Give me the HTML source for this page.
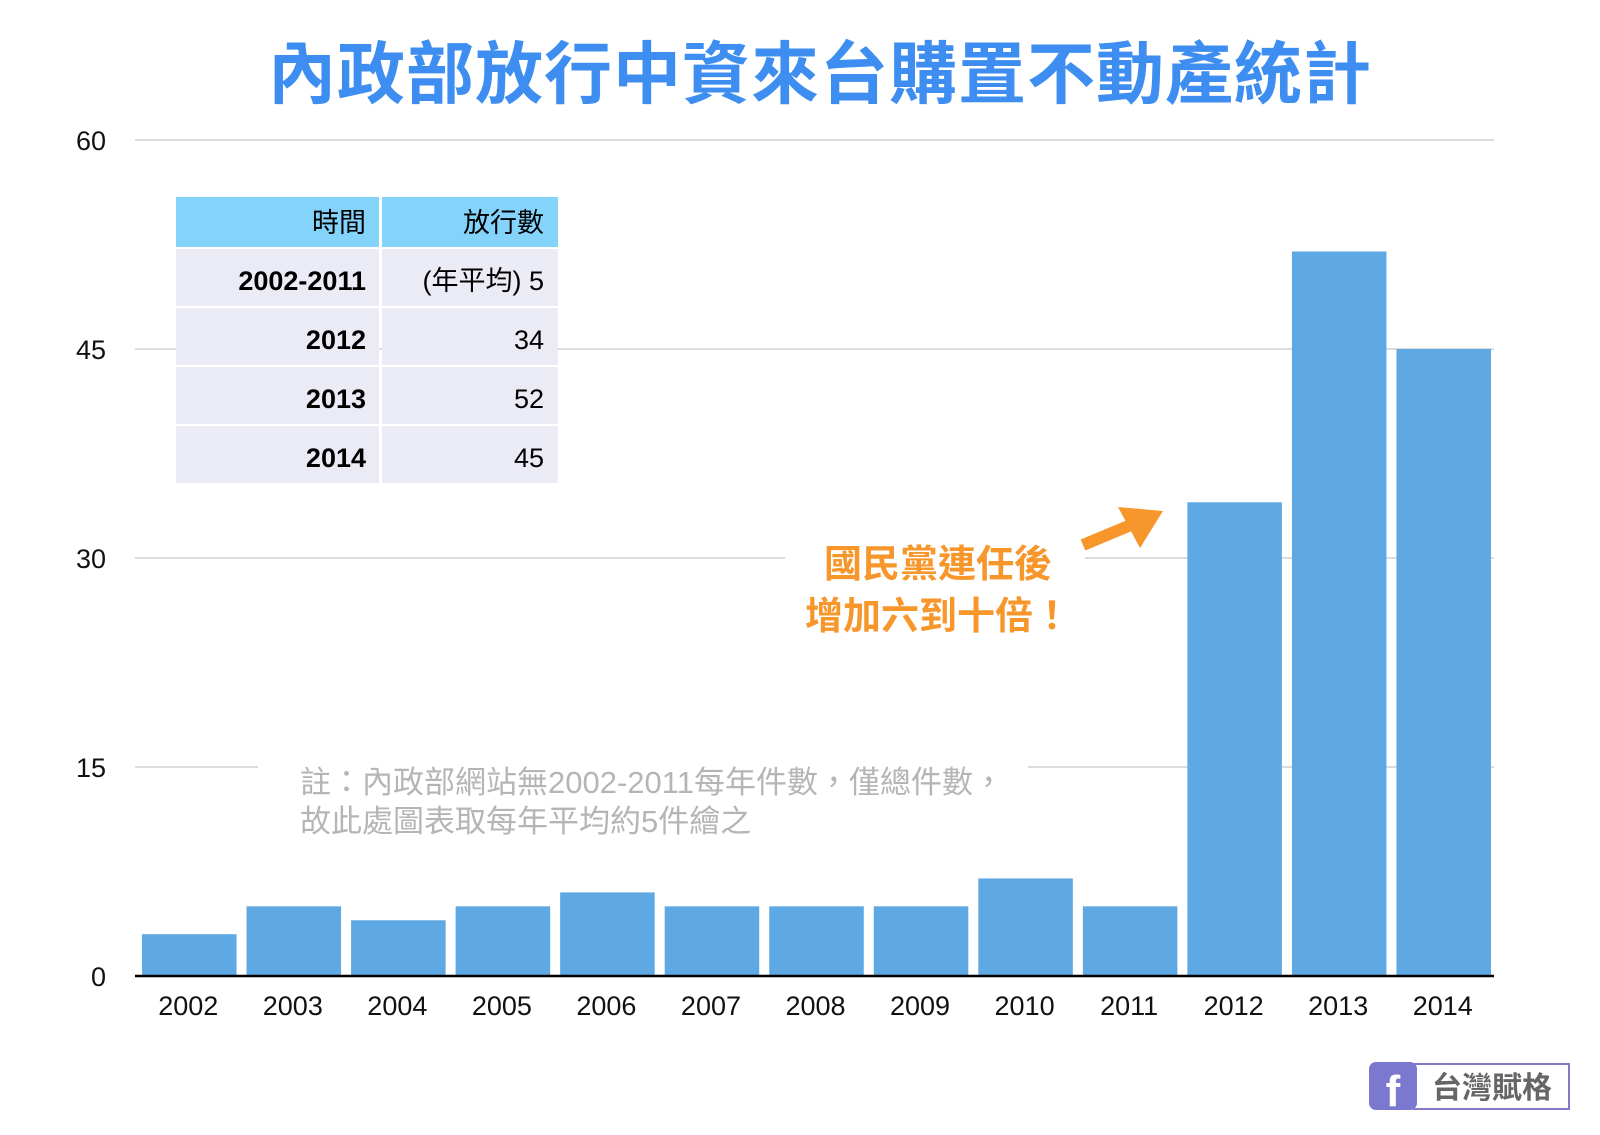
<!DOCTYPE html>
<html><head><meta charset="utf-8"><style>
body{margin:0;width:1600px;height:1130px;background:#fff;overflow:hidden;font-family:"Liberation Sans","Noto Sans CJK TC",sans-serif}
svg text{font-family:"Liberation Sans","Noto Sans CJK TC",sans-serif}
</style></head><body>
<svg id="chart" width="1600" height="1130">
<text x="820" y="98" text-anchor="middle" font-size="68" letter-spacing="1" font-weight="bold" fill="#3d8ef0">內政部放行中資來台購置不動產統計</text>
<g id="grid"></g><g id="bars"></g><g id="xlabels"></g><g id="ylabels"></g>
<line x1="135" y1="976" x2="1494" y2="976" stroke="#000" stroke-width="2.5"/>
<rect x="785" y="540" width="300" height="100" fill="#fff"/>
<rect x="258" y="750" width="770" height="100" fill="#fff"/>
<text x="938" y="577" text-anchor="middle" font-size="38" font-weight="bold" fill="#f7972b">國民黨連任後</text>
<text x="938" y="629" text-anchor="middle" font-size="38" font-weight="bold" fill="#f7972b">增加六到十倍！</text>
<g><line x1="1083" y1="545" x2="1138" y2="522" stroke="#f7972b" stroke-width="12"/><polygon points="1163,511 1118,507 1140,548" fill="#f7972b"/></g>
<text x="300" y="793" font-size="31" fill="#b5b5b5">註：內政部網站無2002-2011每年件數，僅總件數，</text>
<text x="300" y="832" font-size="31" fill="#b5b5b5">故此處圖表取每年平均約5件繪之</text>
<g font-size="27">
<rect x="176" y="197" width="203" height="50" fill="#84d3fb"/><rect x="382" y="197" width="176" height="50" fill="#84d3fb"/>
<text x="366" y="232" text-anchor="end">時間</text><text x="544" y="232" text-anchor="end">放行數</text>
<rect x="176" y="249" width="203" height="57" fill="#ebebf6"/><rect x="382" y="249" width="176" height="57" fill="#ebebf6"/>
<text x="366" y="290" text-anchor="end" font-weight="bold">2002-2011</text><text x="544" y="290" text-anchor="end">(年平均) 5</text>
<rect x="176" y="308" width="203" height="57" fill="#ebebf6"/><rect x="382" y="308" width="176" height="57" fill="#ebebf6"/>
<text x="366" y="349" text-anchor="end" font-weight="bold">2012</text><text x="544" y="349" text-anchor="end">34</text>
<rect x="176" y="367" width="203" height="57" fill="#ebebf6"/><rect x="382" y="367" width="176" height="57" fill="#ebebf6"/>
<text x="366" y="408" text-anchor="end" font-weight="bold">2013</text><text x="544" y="408" text-anchor="end">52</text>
<rect x="176" y="426" width="203" height="57" fill="#ebebf6"/><rect x="382" y="426" width="176" height="57" fill="#ebebf6"/>
<text x="366" y="467" text-anchor="end" font-weight="bold">2014</text><text x="544" y="467" text-anchor="end">45</text>
</g>
<g>
<rect x="1414" y="1064" width="155" height="45" fill="#fff" stroke="#8579cc" stroke-width="2"/>
<rect x="1369" y="1062" width="48" height="48" rx="7" fill="#7b78d0"/>
<text x="1393" y="1106" text-anchor="middle" font-size="44" font-weight="bold" fill="#fff">f</text>
<text x="1492" y="1098" text-anchor="middle" font-size="30" font-weight="bold" fill="#666">台灣賦格</text>
</g>
</svg>
<script>
const categories=["2002","2003","2004","2005","2006","2007","2008","2009","2010","2011","2012","2013","2014"];
const values=[3,5,4,5,6,5,5,5,7,5,34,52,45];
const yTicks=[0,15,30,45,60];
const NS="http://www.w3.org/2000/svg";
const x0=135,x1=1494,yb=976,yt=140,ymax=60;
const band=(x1-x0)/categories.length;
function y(v){return yb-(v/ymax)*(yb-yt);}
function xs(i){return x0+i*band;}
function mk(t,a,p){const e=document.createElementNS(NS,t);for(const k in a)e.setAttribute(k,a[k]);p.appendChild(e);return e;}
const grid=document.getElementById('grid'),bars=document.getElementById('bars'),xl=document.getElementById('xlabels'),yl=document.getElementById('ylabels');
yTicks.forEach(v=>{
 if(v>0){const l=mk('line',{x1:x0,x2:x1,y1:y(v),y2:y(v),stroke:'#d0d0d0','stroke-width':1.5},grid);
 
 }
 const t=mk('text',{x:106,y:y(v)+10,'text-anchor':'end','font-size':27,fill:'#111'},yl);t.textContent=v;
 
 
});
categories.forEach((c,i)=>{
 const r=mk('rect',{x:xs(i)+7,y:y(values[i]),width:band-10,height:yb-y(values[i]),fill:'#5ea8e4'},bars);
 
 
 const t=mk('text',{x:xs(i)+band/2+1,y:1015,'text-anchor':'middle','font-size':27,fill:'#111'},xl);t.textContent=c;
 
 
});
</script>
</body></html>
